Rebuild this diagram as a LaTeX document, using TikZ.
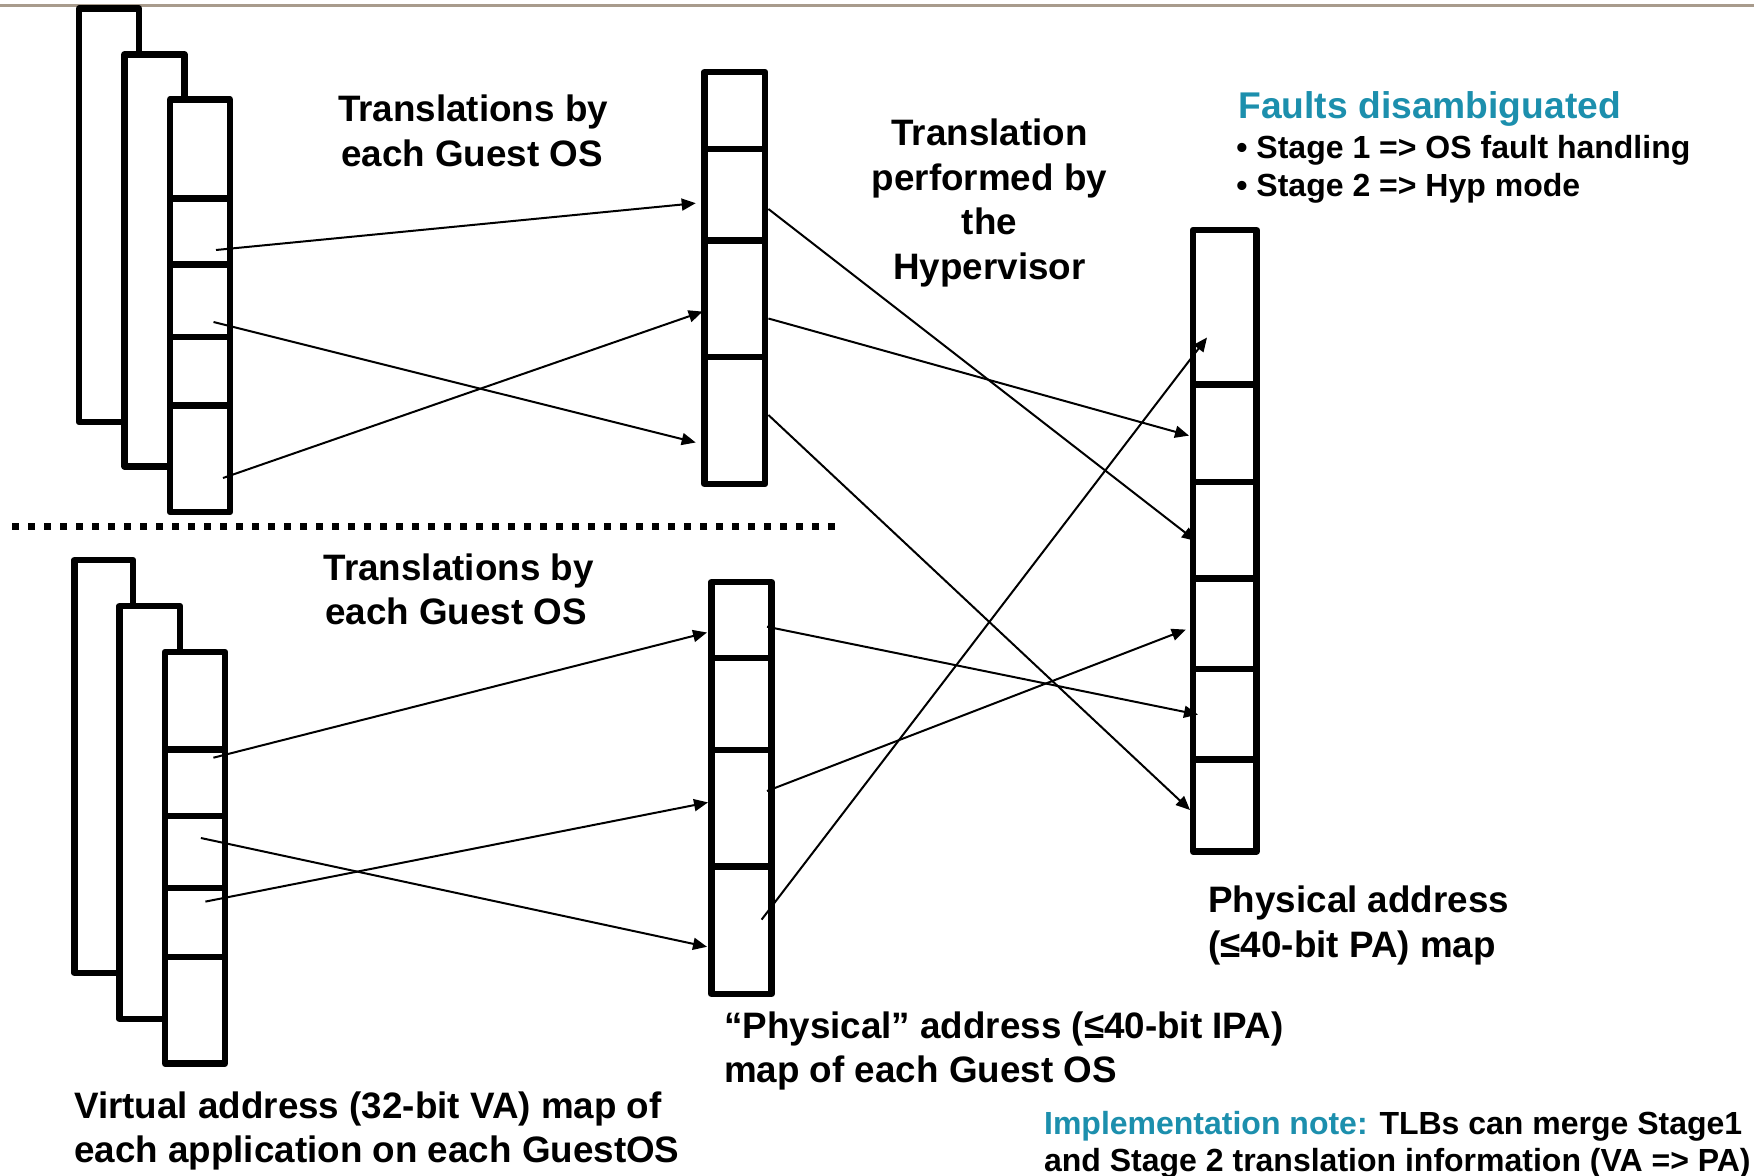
\documentclass[tikz,border=0pt]{standalone}
\usepackage{fontspec}
\setmainfont{Liberation Sans}
\usetikzlibrary{arrows.meta,fit}
\definecolor{rulegray}{RGB}{168,155,140}
\definecolor{noteteal}{RGB}{28,143,173}

% horizontal cell boundaries inside a memory map
\newcommand\cellrules[2]{%
  \foreach \yy in {#2} \draw[cellrule] (#1.west |- 0,\yy) -- (#1.east |- 0,\yy);}

\begin{document}
\begin{tikzpicture}[x=0.5pt,y=-0.5pt,
  mapbox/.style={draw, line width=3.25pt, fill=white, line join=round,
                 inner sep=0pt, outer sep=0pt},
  cellrule/.style={line width=3.25pt},
  link/.style={line width=1pt, -{Triangle[length=7pt,width=6pt]}},
  big/.style={font=\fontsize{18.4}{22}\selectfont\bfseries, inner sep=0pt},
  small/.style={font=\fontsize{16}{19}\selectfont\bfseries, inner sep=0pt}]

\useasboundingbox (0,0) rectangle (1754,1176);
\fill[white] (0,0) rectangle (1754,1176);
\draw[rulegray, line width=1.25pt] (0,5.7) -- (1754,5.7);

% ---- upper half: VA maps of one guest, its IPA map ----
\node[mapbox, fit={(79,8.6)(139,422)}] (vaA1) {};
\node[mapbox, fit={(124.5,54.5)(184.5,466.5)}] (vaA2) {};
\node[mapbox, fit={(170,99.5)(230,512)}] (vaA3) {};
\cellrules{vaA3}{198.3,264.5,336.8,405.3}

\node[mapbox, fit={(704.5,72)(765,484)}] (ipaA) {};
\cellrules{ipaA}{148.8,240.4,357}

% ---- lower half ----
\node[mapbox, fit={(74.5,560)(133,973)}] (vaB1) {};
\node[mapbox, fit={(119.5,606)(180,1019)}] (vaB2) {};
\node[mapbox, fit={(165,652)(225,1063.5)}] (vaB3) {};
\cellrules{vaB3}{749.3,816.2,888.2,957.2}

\node[mapbox, fit={(711.5,582)(771.5,994)}] (ipaB) {};
\cellrules{ipaB}{658,750,866.4}

% ---- physical address map ----
\node[mapbox, fit={(1193,230)(1256.5,851.5)}] (pa) {};
\cellrules{pa}{384.7,482,578.5,669.2,759.5}

% separator between the two guests
\draw[line width=3.5pt, dash pattern=on 3.5pt off 4.5pt] (12,526) -- (835,526);

% ---- connector end points ----
\coordinate (s1) at (216,250);    \coordinate (e1) at (695.7,203.2);
\coordinate (s2) at (213.5,322);  \coordinate (e2) at (695.7,442.5);
\coordinate (s3) at (223,478);    \coordinate (e3) at (702.6,311.6);
\coordinate (s4) at (768.4,209);  \coordinate (e4) at (1196,541);
\coordinate (s5) at (768.4,318.5);\coordinate (e5) at (1189,435.6);
\coordinate (s6) at (768.4,415);  \coordinate (e6) at (1190,810);
\coordinate (s7) at (213.4,757.7);\coordinate (e7) at (707,632.5);
\coordinate (s8) at (200.9,838);  \coordinate (e8) at (707,946.8);
\coordinate (s9) at (205.4,901.6);\coordinate (e9) at (708,802.4);
\coordinate (s10) at (767,626.7); \coordinate (e10) at (1198,714.6);
\coordinate (s11) at (767,791);   \coordinate (e11) at (1185.7,629.6);
\coordinate (s12) at (761.6,919.6);\coordinate (e12) at (1207,337.5);

\foreach \i in {1,...,12} \draw[link] (s\i) -- (e\i);

% ---- labels ----
\node[big, anchor=base] (gosA1) at (473,122) {Translations by};
\node[big, anchor=base] (gosA2) at (472,167) {each Guest OS};

\node[big, anchor=base] (hyp1) at (989.5,146) {Translation};
\node[big, anchor=base] (hyp2) at (989.5,190.5) {performed by};
\node[big, anchor=base] (hyp3) at (989.5,235) {the};
\node[big, anchor=base] (hyp4) at (989.5,279.5) {Hypervisor};

\node[big, anchor=base west, text=noteteal,
      font=\fontsize{18.6}{22}\selectfont\bfseries] (faults) at (1238,119) {Faults disambiguated};
\node[small, anchor=base west] (st1) at (1236,158.4) {• Stage 1 => OS fault handling};
\node[small, anchor=base west] (st2) at (1236,196.3) {• Stage 2 => Hyp mode};

\node[big, anchor=base] (gosB1) at (458.7,580.7) {Translations by};
\node[big, anchor=base] (gosB2) at (456,624) {each Guest OS};

\node[big, anchor=base west] (paL1) at (1208,912) {Physical address};
\node[big, anchor=base west] (paL2) at (1208,957) {(≤40-bit PA) map};

\node[big, anchor=base west] (ipaL1) at (723.7,1038.5) {“Physical” address (≤40-bit IPA)};
\node[big, anchor=base west] (ipaL2) at (723.7,1082.5) {map of each Guest OS};

\node[big, anchor=base west] (vaL1) at (73.8,1118) {Virtual address (32-bit VA) map of};
\node[big, anchor=base west] (vaL2) at (73.8,1162) {each application on each GuestOS};

\node[small, anchor=base west] (impl1) at (1043.7,1134)
  {{\color{noteteal}Implementation note:} TLBs can merge Stage1};
\node[small, anchor=base west] (impl2) at (1043.7,1171)
  {and Stage 2 translation information (VA => PA)};
\end{tikzpicture}
\end{document}
